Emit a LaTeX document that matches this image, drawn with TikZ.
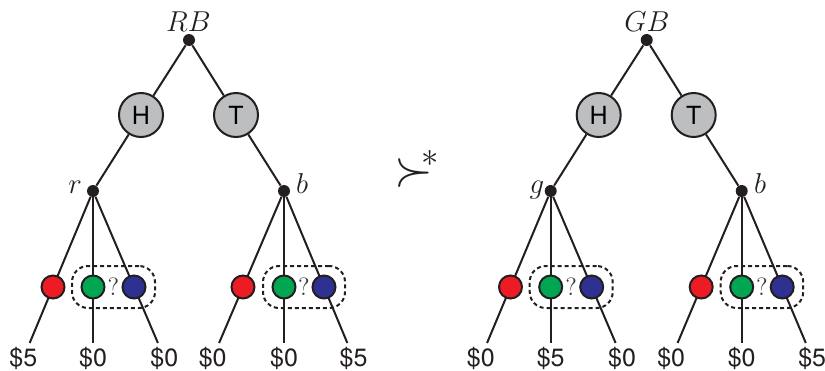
\documentclass[tikz,border=0pt]{standalone}
\usepackage{fontspec}
\setsansfont{TeX Gyre Heros}
\usetikzlibrary{calc,fit,backgrounds}
\definecolor{cred}{HTML}{ED1C24}
\definecolor{cgreen}{HTML}{00A651}
\definecolor{cblue}{HTML}{2E3192}
\definecolor{coingray}{HTML}{BCBEC0}
\definecolor{ink}{HTML}{231F20}
\begin{document}
\begin{tikzpicture}[x=0.5pt,y=-0.5pt,
  edge/.style={line width=1pt, draw=ink},
  dot/.style={circle, fill=ink, inner sep=0pt, minimum size=6pt},
  coin/.style={circle, draw=ink, line width=1pt, fill=coingray, inner sep=0pt, minimum size=22pt, font=\fontsize{12.5}{14}\sffamily},
  ball/.style={circle, draw=ink, line width=1pt, inner sep=0pt, minimum size=11.5pt},
  infoset/.style={draw=ink, dash pattern=on 2pt off 1.5pt, line width=1pt, rounded corners=8pt, inner sep=4.25pt},
  payoff/.style={font=\fontsize{12.5}{14}\sffamily, inner sep=0pt, text=ink},
  mlabel/.style={font=\fontsize{14}{16}\selectfont, inner sep=0pt, anchor=base, text=ink},
  qmark/.style={text=black!78, font=\fontsize{12.5}{14}\selectfont, inner sep=0pt}]
\useasboundingbox (0,0) rectangle (825,370);

% ---------- left tree ----------
\node[dot] (root1) at (189,40) {};
\node[coin] (H1) at (141,115) {H};
\node[coin] (T1) at (236,115) {T};
\node[dot] (r1) at (93,191) {};
\node[dot] (b1) at (284,191) {};
\node[ball, fill=cred]   (ra1) at (53,287) {};
\node[ball, fill=cgreen] (ga1) at (93,287) {};
\node[ball, fill=cblue]  (ba1) at (134,287) {};
\node[ball, fill=cred]   (rb1) at (243,287) {};
\node[ball, fill=cgreen] (gb1) at (284,287) {};
\node[ball, fill=cblue]  (bb1) at (324,287) {};
\node[qmark] (qa1) at ($(ga1)!0.5!(ba1)$) {?};
\node[qmark] (qb1) at ($(gb1)!0.5!(bb1)$) {?};
\node[infoset, fit=(ga1)(ba1)] (isa1) {};
\node[infoset, fit=(gb1)(bb1)] (isb1) {};
\node[mlabel] (lRB) at (188.5,31) {$RB$};
\node[mlabel] (lr1) at (75,193) {$r$};
\node[mlabel] (lb1) at (302,193) {$b$};
\foreach \s/\l in {r1/ra1, r1/ga1, r1/ba1, b1/rb1, b1/gb1, b1/bb1}{
  \coordinate (e-\l) at ($(\s)!1.583!(\l)$);
  \coordinate (p-\l) at ($(\s)!1.74!(\l)$);
}
\node[payoff] (pra1) at (p-ra1) {\$5};
\node[payoff] (pga1) at (p-ga1) {\$0};
\node[payoff] (pba1) at (p-ba1) {\$0};
\node[payoff] (prb1) at (p-rb1) {\$0};
\node[payoff] (pgb1) at (p-gb1) {\$0};
\node[payoff] (pbb1) at (p-bb1) {\$5};

% ---------- relation ----------
\node[inner sep=0pt, anchor=base west, text=ink, font=\fontsize{24}{28}\selectfont] (pref) at (394,185) {$\succ^{\!\!*}$};

% ---------- right tree ----------
\node[dot] (root2) at (646.7,40) {};
\node[coin] (H2) at (598.7,115) {H};
\node[coin] (T2) at (693.7,115) {T};
\node[dot] (g2) at (550.7,191) {};
\node[dot] (b2) at (741.7,191) {};
\node[ball, fill=cred]   (ra2) at (510.5,287) {};
\node[ball, fill=cgreen] (ga2) at (550.7,287) {};
\node[ball, fill=cblue]  (ba2) at (591.7,287) {};
\node[ball, fill=cred]   (rb2) at (701.2,287) {};
\node[ball, fill=cgreen] (gb2) at (741.7,287) {};
\node[ball, fill=cblue]  (bb2) at (782.2,287) {};
\node[qmark] (qa2) at ($(ga2)!0.5!(ba2)$) {?};
\node[qmark] (qb2) at ($(gb2)!0.5!(bb2)$) {?};
\node[infoset, fit=(ga2)(ba2)] (isa2) {};
\node[infoset, fit=(gb2)(bb2)] (isb2) {};
\node[mlabel] (lGB) at (647,31) {$GB$};
\node[mlabel] (lg2) at (537,193) {$g$};
\node[mlabel] (lb2) at (760,193) {$b$};
\foreach \s/\l in {g2/ra2, g2/ga2, g2/ba2, b2/rb2, b2/gb2, b2/bb2}{
  \coordinate (e-\l) at ($(\s)!1.583!(\l)$);
  \coordinate (p-\l) at ($(\s)!1.74!(\l)$);
}
\node[payoff] (pra2) at (p-ra2) {\$0};
\node[payoff] (pga2) at (p-ga2) {\$5};
\node[payoff] (pba2) at (p-ba2) {\$0};
\node[payoff] (prb2) at (p-rb2) {\$0};
\node[payoff] (pgb2) at (p-gb2) {\$0};
\node[payoff] (pbb2) at (p-bb2) {\$5};

% ---------- edges ----------
\begin{scope}[on background layer]
  \draw[edge] (root1) -- (H1) -- (r1);
  \draw[edge] (root1) -- (T1) -- (b1);
  \draw[edge] (root2) -- (H2) -- (g2);
  \draw[edge] (root2) -- (T2) -- (b2);
  \foreach \s/\l in {r1/ra1, r1/ga1, r1/ba1, b1/rb1, b1/gb1, b1/bb1,
                     g2/ra2, g2/ga2, g2/ba2, b2/rb2, b2/gb2, b2/bb2}{
    \draw[edge] (\s) -- (e-\l);
  }
\end{scope}
\end{tikzpicture}
\end{document}
